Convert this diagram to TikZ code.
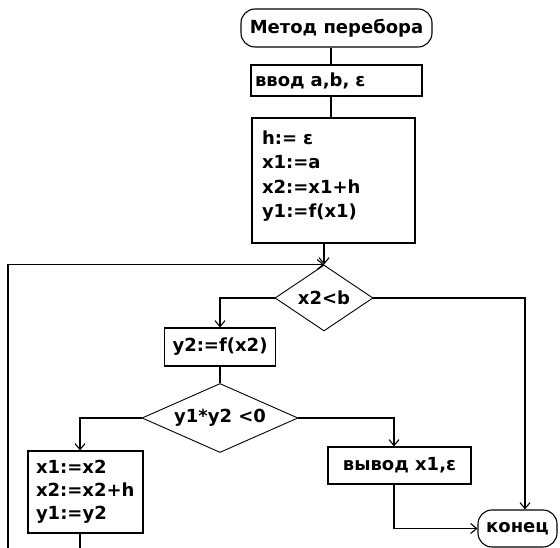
\documentclass[tikz,border=0pt]{standalone}
\usepackage{fontspec}
\setmainfont{DejaVu Sans}
\usetikzlibrary{shapes.geometric,arrows.meta}

\begin{document}
\begin{tikzpicture}[x=1pt, y=-1pt, line width=1.1pt,
    every node/.style={font=\fontsize{18}{24}\selectfont\bfseries, inner sep=0pt},
    block/.style={draw},
    term/.style={draw, rounded corners=14pt},
    cond/.style={draw, diamond, line width=0.9pt},
    arr/.style={-{Straight Barb[length=6pt,width=10pt]}}]
    \useasboundingbox (0,0) rectangle (560,548);
    % columns of the connectors
    \coordinate (colM) at (331,0);
    \coordinate (colL) at (80,0);
    \coordinate (colO) at (394,0);
    \coordinate (colE) at (525,0);
    \coordinate (rim) at (8,552);
    % blocks
    \node[term, minimum width=191, minimum height=38] (start) at (336.5,28) {Метод перебора};
    \node[block, minimum height=31, inner xsep=4pt, text width=163pt, align=left] (input) at (336.5,80.5) {ввод a,b, ε};
    \node[block, minimum height=125, inner xsep=10pt, text width=143pt, align=left,
          font=\fontsize{18}{24.5}\selectfont\bfseries] (proc) at (333.5,180.5)
          {h:= ε\\x1:=a\\x2:=x1+h\\y1:=f(x1)\\[-12pt]\mbox{}};
    \node[cond, aspect=1.5, minimum width=98, minimum height=66] (cond1) at (324,298) {x2<b};
    \node[block, minimum width=111, minimum height=38] (y2box) at (220,347) {y2:=f(x2)};
    \node[cond, aspect=2.26, minimum width=156, minimum height=69] (cond2) at (220,418) {y1*y2 <0};
    \node[block, minimum height=82, inner xsep=8pt, text width=99pt, align=left,
          font=\fontsize{18}{23}\selectfont\bfseries] (upd) at (85.5,492)
          {x1:=x2\\x2:=x2+h\\y1:=y2};
    \node[block, minimum width=143, minimum height=37] (out) at (399.5,465.5) {вывод x1,ε};
    \node[term, minimum width=79, minimum height=37] (stop) at (517.5,528.5) {конец};
    % connectors
    \draw (start.south -| colM) -- (input.north -| colM);
    \draw (input.south -| colM) -- (proc.north -| colM);
    \draw[arr] (proc.south -| cond1.north) -- (cond1.north);
    \draw[arr] (rim) |- (cond1.north);
    \draw[arr] (cond1.west) -| (y2box.north);
    \draw (y2box.south) -- (cond2.north);
    \draw[arr] (cond2.west) -| (colL |- upd.north);
    \draw (colL |- upd.south) -- (colL |- rim);
    \draw[arr] (cond2.east) -| (colO |- out.north);
    \draw[arr] (colO |- out.south) |- (stop.west);
    \draw[arr] (cond1.east) -| (colE |- stop.north);
\end{tikzpicture}
\end{document}
